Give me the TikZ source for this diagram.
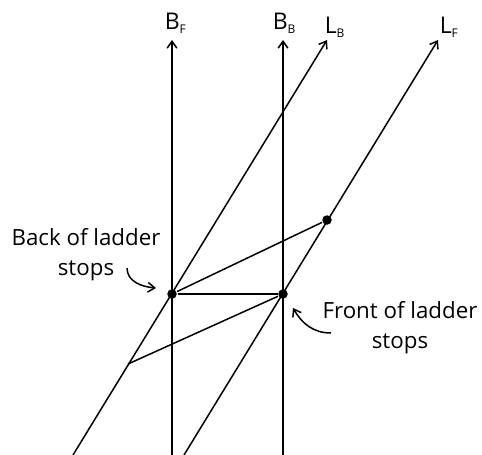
\documentclass[tikz,border=0pt]{standalone}
\usepackage{fontspec}
\setmainfont{Open Sans}
\usetikzlibrary{arrows.meta,positioning}
\newcommand{\lsub}[2]{#1\raisebox{-5pt}{\fontsize{12}{12}\selectfont #2}}

\begin{document}
\begin{tikzpicture}[x=1pt, y=-1pt, line width=1.5pt, >={Straight Barb[length=2.4mm,width=3.4mm]}, dot/.style={circle, fill, inner sep=0pt, minimum size=9.5pt}, axlbl/.style={anchor=base west, inner sep=0pt, font=\fontsize{23}{23}\selectfont}, note/.style={align=center, inner sep=0pt, font=\fontsize{22.3}{30}\selectfont}]
\useasboundingbox (0,0) rectangle (482,455);
% world lines of the barn ends and of the ladder ends
\coordinate (bf0) at (172,455); \coordinate (bf1) at (172,40);
\coordinate (bb0) at (283,455); \coordinate (bb1) at (283,40);
\coordinate (lb0) at (73,455); \coordinate (lb1) at (327,40);
\coordinate (lf0) at (184,455); \coordinate (lf1) at (438,40);
\draw[->] (bf0) -- (bf1); \draw[->] (bb0) -- (bb1);
\draw[->] (lb0) -- (lb1); \draw[->] (lf0) -- (lf1);
\node[axlbl] (bfl) at (164,29) {\lsub{B}{F}};
\node[axlbl] (bbl) at (272,29) {\lsub{B}{B}};
\node[axlbl] (lbl) at (324,33) {\lsub{L}{B}};
\node[axlbl] (lfl) at (439,33) {\lsub{L}{F}};
% stopping events
\node[dot] (back) at (172,294) {};
\node[dot] (front) at (283,294) {};
\node[dot] (top) at (327,220) {};
\coordinate (low) at (128,364);
\draw (back) -- (front); \draw (back) -- (top); \draw (front) -- (low);
% notes
\node[note, anchor=north] (bn) at (86,228) {Back of ladder\\stops};
\node[note, anchor=north] (fn) at (400,301) {Front of ladder\\stops};
\coordinate (bs) at (127,268); \coordinate (be) at (156,288);
\coordinate (fs) at (331,333); \coordinate (fe) at (293,308);
\draw[->] (bs) to[out=-90, in=175] (be);
\draw[->] (fs) to[out=180, in=-60] (fe);
\end{tikzpicture}
\end{document}
